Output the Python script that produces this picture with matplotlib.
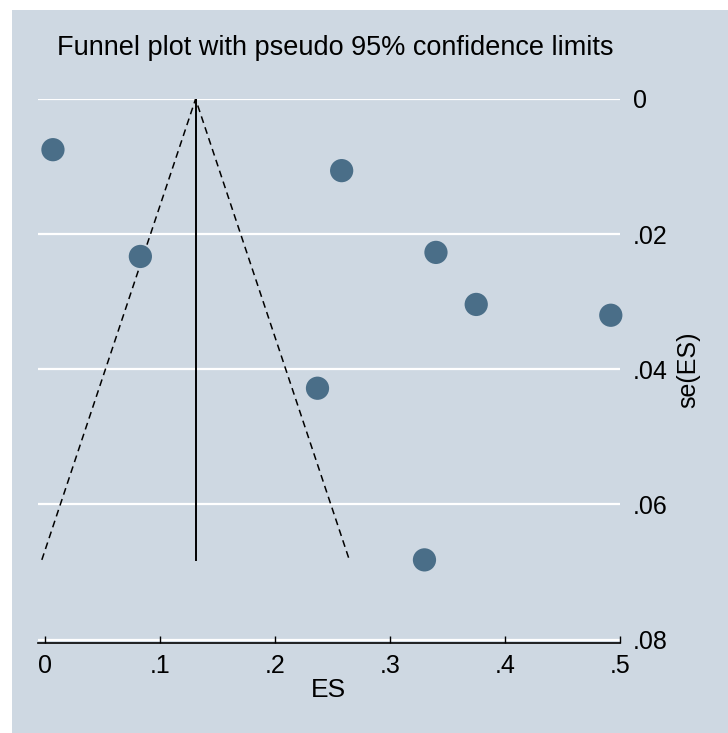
import matplotlib.pyplot as plt
from matplotlib.patches import Rectangle

# effect sizes and their standard errors
es = [0.007, 0.083, 0.258, 0.340, 0.375, 0.492, 0.237, 0.330]
se = [0.0075, 0.0233, 0.0106, 0.0227, 0.0304, 0.032, 0.0428, 0.0682]
pooled = 0.131
se_max = 0.0682

xticks = [0, 0.1, 0.2, 0.3, 0.4, 0.5]
xlabels = ['0', '.1', '.2', '.3', '.4', '.5']
yticks = [0, 0.02, 0.04, 0.06, 0.08]
ylabels = ['0', '.02', '.04', '.06', '.08']

bg = '#CED8E2'
plt.rcParams['font.family'] = ['Liberation Sans', 'DejaVu Sans']

fig = plt.figure(figsize=(7.28, 7.33), dpi=100)
fig.patch.set_facecolor('white')
fig.add_artist(Rectangle((12 / 728, 0), 1, 1 - 10 / 733, transform=fig.transFigure,
                         facecolor=bg, edgecolor='none', zorder=-10))

ax = fig.add_axes([38 / 728, 1 - 643 / 733, (620 - 38) / 728, (643 - 99) / 733])
ax.set_facecolor(bg)
ax.set_xlim(-0.006, 0.5)
ax.set_ylim(0.0805, 0)

for y in yticks:
    ax.axhline(y, color='white', lw=1.6, zorder=1)

# pseudo 95% limits
ax.plot([pooled - 1.96 * se_max, pooled, pooled + 1.96 * se_max], [se_max, 0, se_max],
        color='black', lw=1.1, ls=(0, (4.5, 3)), zorder=2)
ax.plot([pooled, pooled], [0, se_max], color='black', lw=1.4, zorder=2)

ax.scatter(es, se, s=280, color='#4A6E88', edgecolors='none', zorder=3, clip_on=False)

for side in ['top', 'left', 'right']:
    ax.spines[side].set_visible(False)
ax.spines['bottom'].set_color('black')
ax.spines['bottom'].set_linewidth(1.2)

ax.set_xticks(xticks)
ax.set_xticklabels(xlabels)
ax.tick_params(axis='x', direction='in', length=5, width=1, labelsize=18, pad=8)

ax.yaxis.tick_right()
ax.set_yticks(yticks)
ax.set_yticklabels(ylabels)
ax.tick_params(axis='y', length=0, labelsize=18, pad=9)

fig.text(328 / 728, 1 - 690 / 733, 'ES', ha='center', va='center', fontsize=19)
fig.text(688 / 728, 1 - 370 / 733, 'se(ES)', ha='center', va='center', fontsize=18,
         rotation=90)
fig.text(335 / 728, 1 - 48 / 733, 'Funnel plot with pseudo 95% confidence limits',
         ha='center', va='center', fontsize=19.5)

fig.savefig('out.png', dpi=100, facecolor='white')
